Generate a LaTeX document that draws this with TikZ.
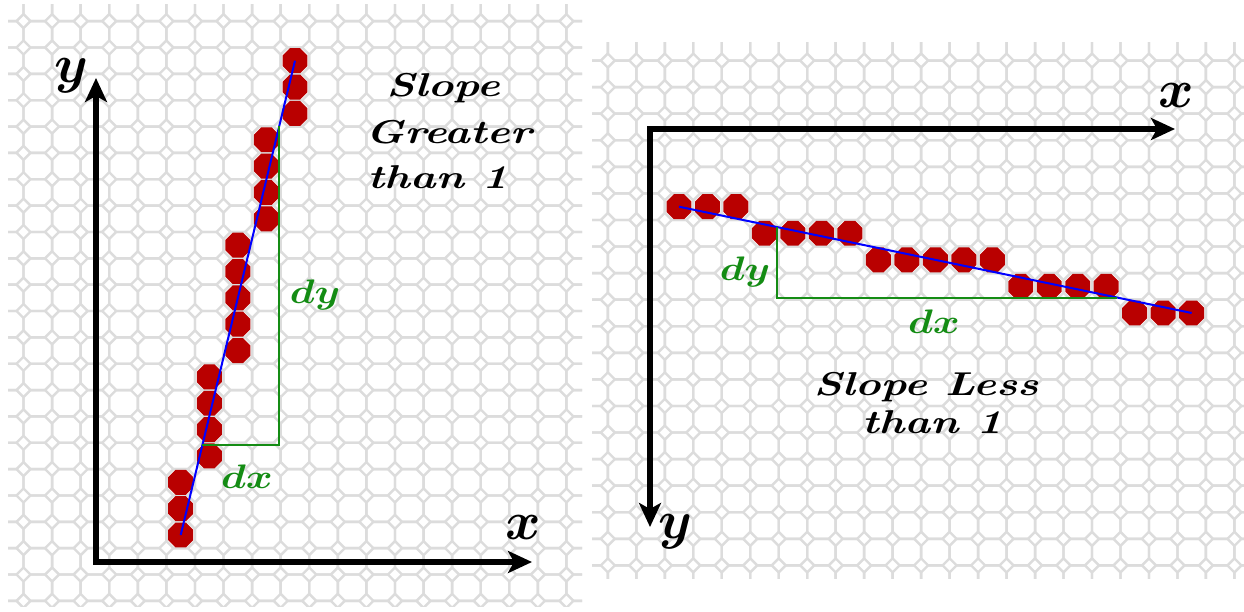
\RequirePackage{fix-cm}
\documentclass[tikz,border=0pt]{standalone}
\usetikzlibrary{arrows.meta,shapes.geometric}
\definecolor{dotred}{RGB}{185,0,0}
\definecolor{grn}{RGB}{20,140,20}
\definecolor{blu}{RGB}{0,0,255}
\definecolor{patgray}{RGB}{220,220,220}
\begin{document}
\begin{tikzpicture}[x=1pt,y=-1pt,
  pat/.style={draw=patgray,line width=2.4pt},
  dot/.style={regular polygon,regular polygon sides=8,minimum size=27pt,inner sep=0pt,fill=dotred,draw=none},
  axis/.style={line width=6.5pt,line join=miter,{Stealth[length=24pt,width=22pt,inset=6pt]}-{Stealth[length=24pt,width=22pt,inset=6pt]}},
  fitline/.style={blu,line width=2pt},
  tri/.style={grn,line width=2pt},
  lbl/.style={inner sep=0pt,anchor=base,font=\fontsize{33}{38}\selectfont\bfseries\itshape},
  dlbl/.style={inner sep=0pt,anchor=base,text=grn,font=\fontsize{34}{38}\selectfont\boldmath},
  albl/.style={inner sep=0pt,font=\fontsize{54}{60}\selectfont\boldmath}]
\useasboundingbox[fill=white] (0,0) rectangle (1244,611);
% background patterns
\begin{scope}
  \clip (8,4) rectangle (582,606);
  \foreach \i in {0,...,20} \foreach \j in {0,...,23} {
    \draw[pat] ({-5.075+28.575*\i+7},{-5.2+26.35*\j}) -- ++(14.575,0) -- ++(7,7) -- ++(0,12.35) -- ++(-7,7) -- ++(-14.575,0) -- ++(-7,-7) -- ++(0,-12.35) -- cycle;
  }
\end{scope}
\begin{scope}
  \clip (592,42) rectangle (1244,578);
  \foreach \i in {0,...,24} \foreach \j in {0,...,21} {
    \draw[pat] ({579.36+28.48*\i+7},{33.98+26.57*\j}) -- ++(14.48,0) -- ++(7,7) -- ++(0,12.57) -- ++(-7,7) -- ++(-14.48,0) -- ++(-7,-7) -- ++(0,-12.57) -- cycle;
  }
\end{scope}
% left panel dots
\foreach \k/\c in {0/0,1/0,2/0,3/1,4/1,5/1,6/1,7/2,8/2,9/2,10/2,11/2,12/3,13/3,14/3,15/3,16/4,17/4,18/4}
  \node[dot] (L\k) at ({180.7+28.575*\c},{535-26.35*\k}) {};
% right panel dots
\foreach \k/\r in {0/0,1/0,2/0,3/1,4/1,5/1,6/1,7/2,8/2,9/2,10/2,11/2,12/3,13/3,14/3,15/3,16/4,17/4,18/4}
  \node[dot] (R\k) at ({679+28.48*\k},{206.7+26.57*\r}) {};
% left axes
\coordinate (LO) at (96,562);
\coordinate (LYt) at (96,78);
\coordinate (LXt) at (532,562);
\draw[axis] (LYt) -- (LO) -- (LXt);
\node[albl] (ly) at (71,76) {$y$};
\node[albl] (lx) at (523.7,527) {$x$};
% left fit line and triangle
\draw[fitline] (L0.center) -- (L18.center);
\coordinate (g1) at (279.3,125.8);
\coordinate (g2) at (279.3,445);
\coordinate (g3) at (202.4,445);
\draw[tri] (g1) -- (g2) -- (g3);
\node[dlbl] (ldy) at (315,303) {\scalebox{1.2}[1]{$dy$}};
\node[dlbl] (ldx) at (247,488) {\scalebox{1.2}[1]{$dx$}};
\node[lbl] (sl1) at (443,96.7) {\scalebox{1.32}[1]{Slope}};
\node[lbl] (sl2) at (448.5,143) {\scalebox{1.32}[1]{Greater}};
\node[lbl] (sl3) at (437.5,188) {\scalebox{1.32}[1]{than 1}};
% right axes
\coordinate (RO) at (650,129);
\coordinate (RXt) at (1175,129);
\coordinate (RYt) at (650,527);
\draw[axis] (RYt) -- (RO) -- (RXt);
\node[albl] (rx) at (1176.5,95) {$x$};
\node[albl] (ry) at (675,532) {$y$};
% right fit line and triangle
\draw[fitline] (R0.center) -- (R18.center);
\coordinate (h1) at (777.3,227.1);
\coordinate (h2) at (777.3,298);
\coordinate (h3) at (1117,298);
\draw[tri] (h1) -- (h2) -- (h3);
\node[dlbl] (rdy) at (745,280) {\scalebox{1.2}[1]{$dy$}};
\node[dlbl] (rdx) at (934,333) {\scalebox{1.2}[1]{$dx$}};
\node[lbl] (sr1) at (926,395) {\scalebox{1.32}[1]{Slope Less}};
\node[lbl] (sr2) at (932,433) {\scalebox{1.32}[1]{than 1}};
\end{tikzpicture}
\end{document}
